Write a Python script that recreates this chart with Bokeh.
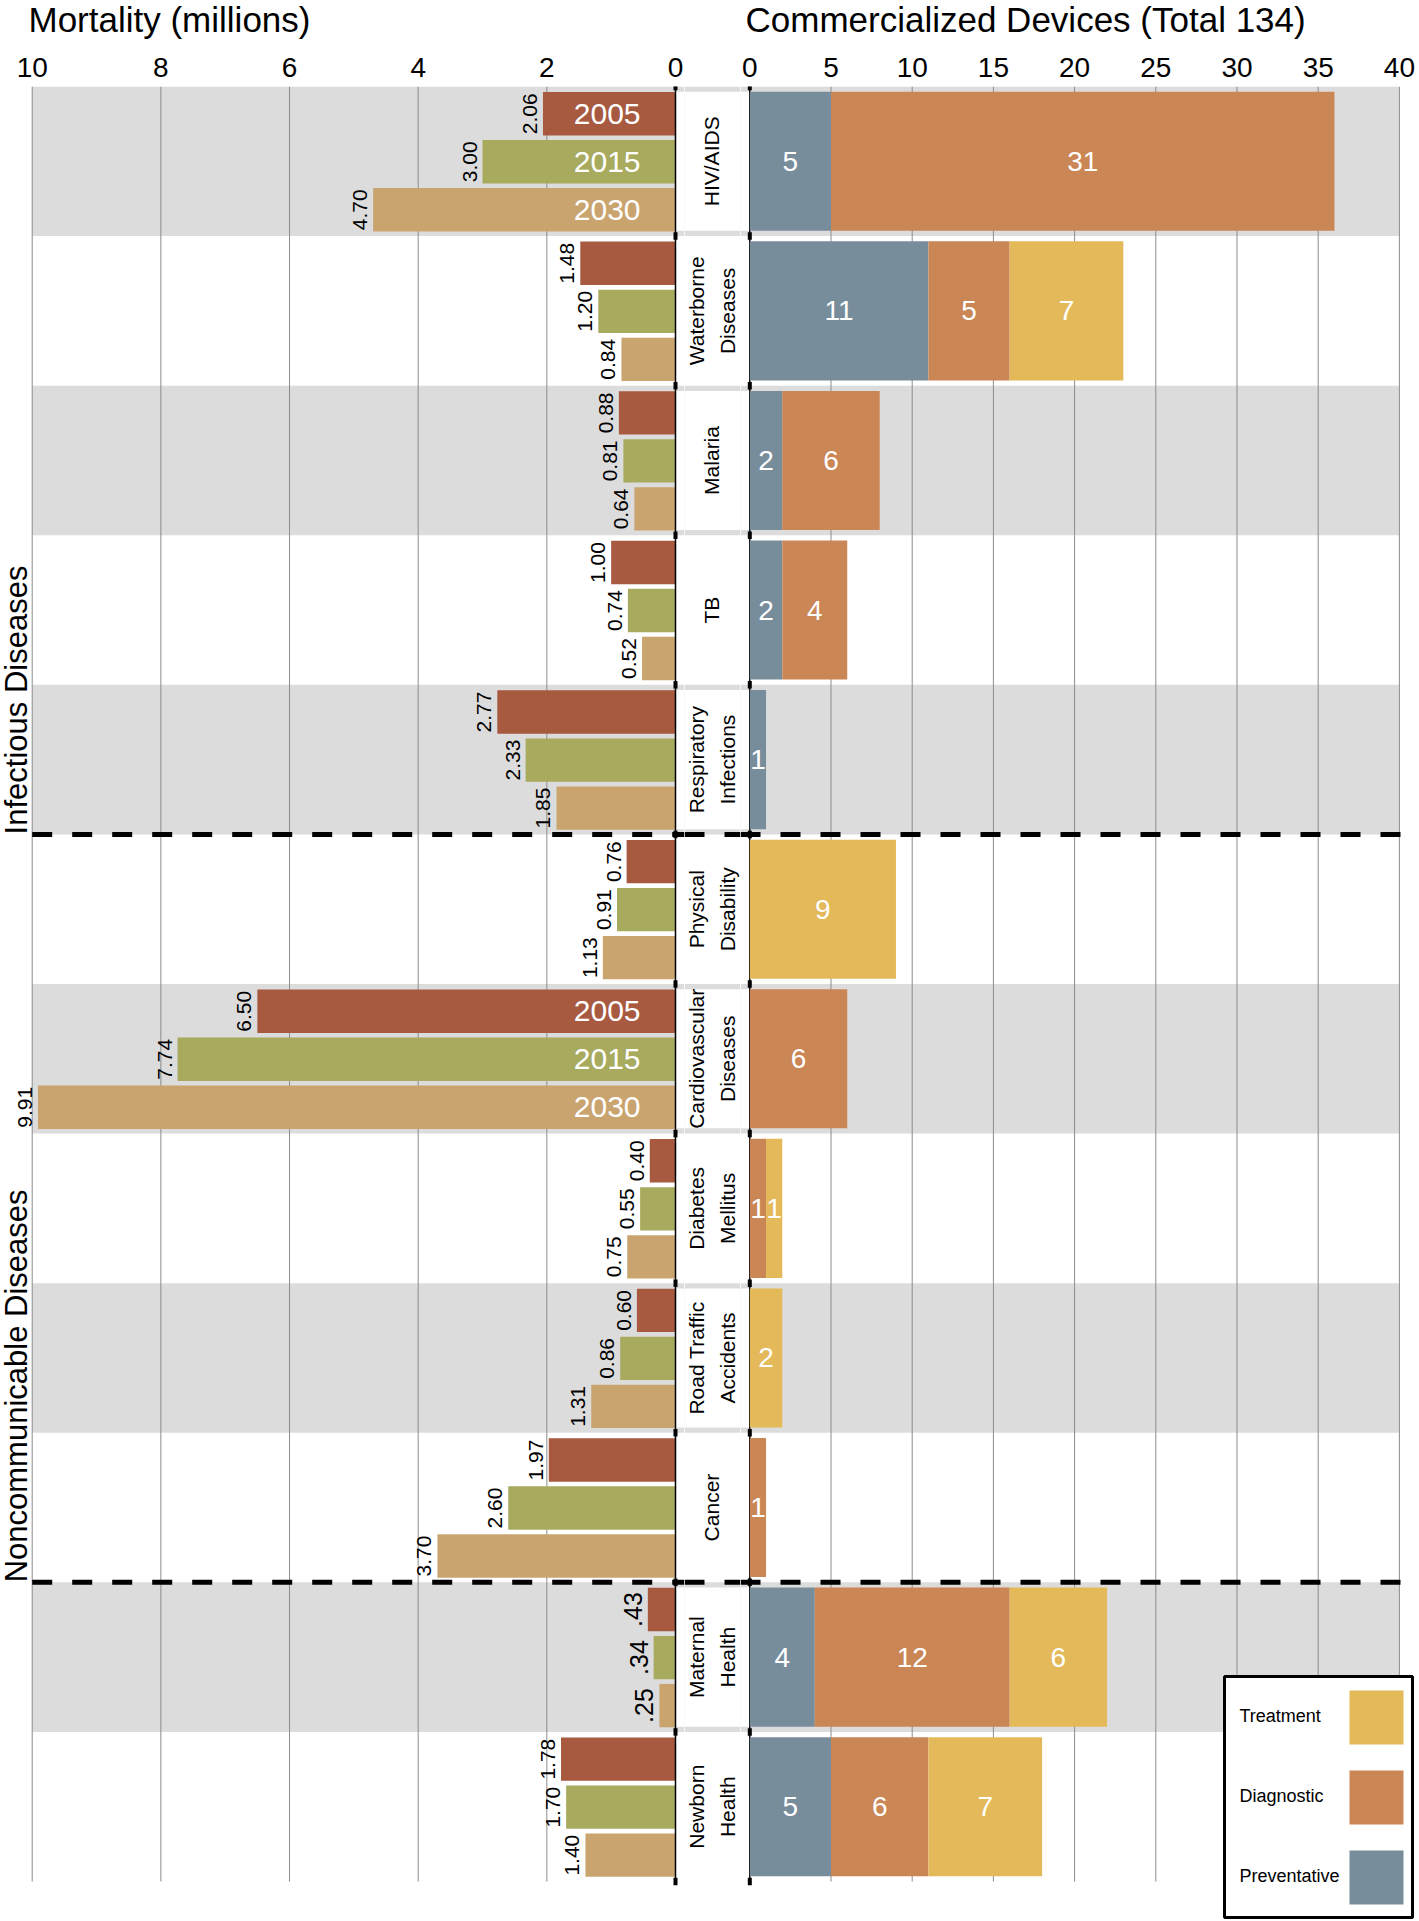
import numpy as np
from bokeh.plotting import figure
from bokeh.models import Range1d, FixedTicker, BoxAnnotation, ColumnDataSource
from bokeh.layouts import row, column
from bokeh.embed import file_html
from bokeh.resources import INLINE
from bokeh.core.properties import value

# ---------------- data ----------------
diseases = ["HIV/AIDS", "Waterborne Diseases", "Malaria", "TB", "Respiratory Infections",
            "Physical Disability", "Cardiovascular Diseases", "Diabetes Mellitus",
            "Road Traffic Accidents", "Cancer", "Maternal Health", "Newborn Health"]
row_labels = ["HIV/AIDS", "Waterborne\nDiseases", "Malaria", "TB", "Respiratory\nInfections",
              "Physical\nDisability", "Cardiovascular\nDiseases", "Diabetes\nMellitus",
              "Road Traffic\nAccidents", "Cancer", "Maternal\nHealth", "Newborn\nHealth"]
years = ["2005", "2015", "2030"]
mort_2005 = [2.06, 1.48, 0.88, 1.00, 2.77, 0.76, 6.50, 0.40, 0.60, 1.97, 0.43, 1.78]
mort_2015 = [3.00, 1.20, 0.81, 0.74, 2.33, 0.91, 7.74, 0.55, 0.86, 2.60, 0.34, 1.70]
mort_2030 = [4.70, 0.84, 0.64, 0.52, 1.85, 1.13, 9.91, 0.75, 1.31, 3.70, 0.25, 1.40]
lab_2005 = ["2.06", "1.48", "0.88", "1.00", "2.77", "0.76", "6.50", "0.40", "0.60", "1.97", ".43", "1.78"]
lab_2015 = ["3.00", "1.20", "0.81", "0.74", "2.33", "0.91", "7.74", "0.55", "0.86", "2.60", ".34", "1.70"]
lab_2030 = ["4.70", "0.84", "0.64", "0.52", "1.85", "1.13", "9.91", "0.75", "1.31", "3.70", ".25", "1.40"]
year_label_rows = ["HIV/AIDS", "Cardiovascular Diseases"]
big_label_rows = ["Maternal Health"]

device_types = ["Preventative", "Diagnostic", "Treatment"]
preventative = [5, 11, 2, 2, 1, 0, 0, 0, 0, 0, 4, 5]
diagnostic = [31, 5, 6, 4, 0, 0, 6, 1, 0, 1, 12, 6]
treatment = [0, 7, 0, 0, 0, 9, 0, 1, 2, 0, 6, 7]

groups = ["Infectious Diseases", "Noncommunicable Diseases"]
group_end_rows = [5, 10]
separator_rows = [5, 10]
mort_ticks = [0, 2, 4, 6, 8, 10]
dev_ticks = [0, 5, 10, 15, 20, 25, 30, 35, 40]
title_left = "Mortality (millions)"
title_right = "Commercialized Devices (Total 134)"

# ---------------- styles ----------------
C_YEARS = ["#A85A41", "#A8AA5E", "#C9A46F"]
C_DEV = ["#788D9C", "#CB8655", "#E4B95A"]
BAND = "#DCDCDC"
GRID = "#8C8C8C"
FONT = "Liberation Sans"

# ---------------- layout (page pixels) ----------------
TOTAL_W = 1417
TITLE_H = 44
FIG_H = 1919 - TITLE_H
FRAME_TOP = 86
ROWS_BOTTOM = 1881
CANVAS_BOTTOM = TITLE_H + FIG_H
N = len(diseases)
ROW_PX = (ROWS_BOTTOM - FRAME_TOP) / N
Y_END = N + (CANVAS_BOTTOM - ROWS_BOTTOM) / ROW_PX

L_X1, M_X1, R_X1 = 684, 740, TOTAL_W
M10_PX, M0_PX = 31.7, 675.0
D0_PX, D40_PX = 749.3, 1398.9
MMAX = mort_ticks[-1]
DMAX = dev_ticks[-1]

ppu_m = (M0_PX - M10_PX) / MMAX
xr_L = Range1d(MMAX + M10_PX / ppu_m, -(L_X1 - M0_PX) / ppu_m)
ppu_d = (D40_PX - D0_PX) / DMAX
xr_R = Range1d(-(D0_PX - M_X1) / ppu_d, (R_X1 - D0_PX) / ppu_d)
xr_M = Range1d(L_X1, M_X1)


def make_fig(width, xr, axis):
    p = figure(width=width, height=FIG_H, x_range=xr, y_range=Range1d(Y_END, 0),
               output_backend="svg", toolbar_location=None,
               x_axis_location="above" if axis else None, y_axis_location=None,
               min_border_top=FRAME_TOP - TITLE_H, min_border_bottom=0,
               min_border_left=0, min_border_right=0,
               outline_line_color=None, background_fill_color="white",
               border_fill_color="white")
    p.xgrid.visible = False
    p.ygrid.visible = False
    if axis:
        ax = p.xaxis[0]
        ax.ticker = FixedTicker(ticks=axis)
        ax.axis_line_color = None
        ax.major_tick_line_color = None
        ax.minor_tick_line_color = None
        ax.major_label_text_font = FONT
        ax.major_label_text_font_size = "28px"
        ax.major_label_text_color = "black"
        ax.major_label_standoff = 4
    return p


pL = make_fig(L_X1, xr_L, mort_ticks)
pM = make_fig(M_X1 - L_X1, xr_M, None)
pR = make_fig(R_X1 - M_X1, xr_R, dev_ticks)

# title strip
pT = figure(width=TOTAL_W, height=TITLE_H, x_range=Range1d(0, TOTAL_W), y_range=Range1d(TITLE_H, 0),
            output_backend="svg", toolbar_location=None, x_axis_location=None, y_axis_location=None,
            title=None, min_border=0, outline_line_color=None, border_fill_color="white")
pT.xgrid.visible = False
pT.ygrid.visible = False
pT.text(x=[28, 745], y=[19, 19], text=[title_left, title_right], text_align="left",
        text_baseline="middle", text_font=value(FONT), text_font_size=value("35px"),
        text_color="black")

BOX_IN = 0.035
# background bands (every other row)
for i in range(0, N, 2):
    pL.add_layout(BoxAnnotation(left=MMAX, top=i, bottom=i + 1, fill_color=BAND, fill_alpha=1,
                                line_color=None, level="underlay"))
    pL.add_layout(BoxAnnotation(left=0, top=i + BOX_IN, bottom=i + 1 - BOX_IN, fill_color="white",
                                fill_alpha=1, line_color=None, level="underlay"))
    pM.add_layout(BoxAnnotation(top=i, bottom=i + 1, fill_color=BAND, fill_alpha=1,
                                line_color=None, level="underlay"))
    pM.add_layout(BoxAnnotation(top=i + BOX_IN, bottom=i + 1 - BOX_IN, fill_color="white",
                                fill_alpha=1, line_color=None, level="underlay"))
    pR.add_layout(BoxAnnotation(right=DMAX, top=i, bottom=i + 1, fill_color=BAND, fill_alpha=1,
                                line_color=None, level="underlay"))
    pR.add_layout(BoxAnnotation(right=0, top=i + BOX_IN, bottom=i + 1 - BOX_IN, fill_color="white",
                                fill_alpha=1, line_color=None, level="underlay"))

# grid lines
gl = [t for t in mort_ticks if t != 0]
pL.segment(x0=gl, y0=[0] * len(gl), x1=gl, y1=[N] * len(gl), line_color=GRID, line_width=1)
gr = [t for t in dev_ticks if t != 0]
pR.segment(x0=gr, y0=[0] * len(gr), x1=gr, y1=[N] * len(gr), line_color=GRID, line_width=1)

# ---------------- mortality bars ----------------
offsets = [0.182, 0.503, 0.824]
BAR_H = 0.29
series = [mort_2005, mort_2015, mort_2030]
labels = [lab_2005, lab_2015, lab_2030]
yr_rows = [diseases.index(d) for d in year_label_rows]
for j in range(3):
    ys = [i + offsets[j] for i in range(N)]
    pL.hbar(y=ys, left=0, right=series[j], height=BAR_H, fill_color=C_YEARS[j], line_color=None)
    fs = ["25px" if d in big_label_rows else "21px" for d in diseases]
    xo = [-15 if d in big_label_rows else -13 for d in diseases]
    src = ColumnDataSource(dict(x=series[j], y=ys, t=labels[j], fs=fs, xo=xo))
    pL.text(x="x", y="y", text="t", source=src, angle=np.pi / 2, text_align="center",
            text_baseline="middle", x_offset="xo", text_font=value(FONT), text_font_size="fs",
            text_color="black")
    pL.text(x=[0] * len(yr_rows), y=[r + offsets[j] for r in yr_rows], text=[years[j]] * len(yr_rows),
            x_offset=-35, text_align="right", text_baseline="middle", text_color="white",
            text_font=value(FONT), text_font_size=value("30px"))

# black zero lines with stubs
bounds = list(range(N + 1))
for p in (pL, pR):
    p.segment(x0=[0], y0=[0], x1=[0], y1=[N], line_color="black", line_width=1.5)
    p.segment(x0=[0] * len(bounds), y0=[b - 0.025 for b in bounds], x1=[0] * len(bounds),
              y1=[b + 0.025 for b in bounds], line_color="black", line_width=4)

# ---------------- device bars ----------------
dev_series = [preventative, diagnostic, treatment]
left = np.zeros(N)
DEV_H = 0.93
for k in range(3):
    vals = np.array(dev_series[k], dtype=float)
    right = left + vals
    ys = [i + 0.5 for i in range(N)]
    pR.hbar(y=ys, left=left, right=right, height=DEV_H, fill_color=C_DEV[k], line_color=None)
    m = vals > 0
    pR.text(x=list(((left + right) / 2)[m]), y=list(np.array(ys)[m]),
            text=[str(int(v)) for v in vals[m]], text_align="center", text_baseline="middle",
            text_color="white", text_font=value(FONT), text_font_size=value("28px"))
    left = right

# ---------------- middle labels ----------------
pM.text(x=[(M0_PX + D0_PX) / 2 - 0.8] * N, y=[i + 0.5 for i in range(N)], text=row_labels,
        angle=np.pi / 2, text_align="center", text_baseline="middle", text_color="black",
        text_font=value(FONT), text_font_size=value("21px"), text_line_height=1.35)

# ---------------- separators ----------------
for s in separator_rows:
    pL.segment(x0=[MMAX], y0=[s], x1=[xr_L.end], y1=[s], line_color="black", line_width=5, line_dash="20 20")
    pM.segment(x0=[xr_M.start], y0=[s], x1=[xr_M.end], y1=[s], line_color="black", line_width=5, line_dash="20 20")
    pR.segment(x0=[xr_R.start], y0=[s], x1=[xr_R.end], y1=[s], line_color="black", line_width=5, line_dash="20 20")

# group labels
pL.text(x=[MMAX] * len(groups), y=group_end_rows, text=groups, angle=np.pi / 2, text_align="left",
        text_baseline="middle", x_offset=-16, text_font=value(FONT), text_font_size=value("31px"),
        text_color="black")

# ---------------- legend ----------------
def dx(px):
    return (px - D0_PX) / ppu_d


def dy(py):
    return (py - FRAME_TOP) / ROW_PX


pR.quad(left=[dx(1224)], right=[dx(1412)], top=[dy(1676)], bottom=[dy(1917)],
        fill_color="white", line_color="black", line_width=3)
leg_names = ["Treatment", "Diagnostic", "Preventative"]
leg_cols = [C_DEV[2], C_DEV[1], C_DEV[0]]
leg_cy = [1717, 1797, 1877]
pR.quad(left=[dx(1349)] * 3, right=[dx(1403)] * 3, top=[dy(c - 27) for c in leg_cy],
        bottom=[dy(c + 27) for c in leg_cy], fill_color=leg_cols, line_color=None)
pR.text(x=[dx(1239)] * 3, y=[dy(c - 2) for c in leg_cy], text=leg_names, text_align="left",
        text_baseline="middle", text_font=value(FONT), text_font_size=value("18px"), text_color="black")

layout = column(pT, row(pL, pM, pR))
open("out.html", "w").write(file_html(layout, INLINE))
